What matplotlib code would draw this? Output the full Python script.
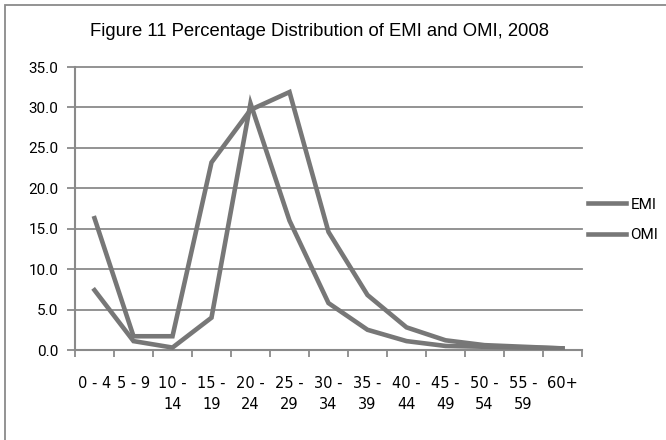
import matplotlib
matplotlib.use("Agg")
import matplotlib.pyplot as plt
from matplotlib.lines import Line2D
from matplotlib.patches import Rectangle
import numpy as np

age_groups = ["0 - 4", "5 - 9", "10 -\n14", "15 -\n19", "20 -\n24", "25 -\n29", "30 -\n34",
              "35 -\n39", "40 -\n44", "45 -\n49", "50 -\n54", "55 -\n59", "60+"]
emi = [16.3, 1.7, 1.7, 23.2, 29.7, 31.9, 14.6, 6.8, 2.8, 1.2, 0.6, 0.4, 0.2]
omi = [7.4, 1.1, 0.3, 4.0, 30.5, 16.0, 5.8, 2.5, 1.1, 0.5, 0.4, 0.3, 0.2]
yticks = [0, 5, 10, 15, 20, 25, 30, 35]

W, H = 666, 440
grey = "#8a8a8a"
line_col = "#777777"

fig = plt.figure(figsize=(W / 100, H / 100), dpi=100)
ax = fig.add_axes([75 / W, 1 - 350 / H, 507 / W, 283 / H])

x = np.arange(len(age_groups))
ax.plot(x, emi, color=line_col, lw=3.3, solid_joinstyle="miter", zorder=3)
ax.plot(x, omi, color=line_col, lw=3.3, solid_joinstyle="miter", zorder=3)

ax.set_xlim(-0.5, len(age_groups) - 0.5)
ax.set_ylim(0, 35)
ax.set_yticks(yticks)
ax.set_yticklabels(["%.1f" % v for v in yticks], fontsize=11, family="Roboto")
ax.yaxis.grid(True, color=grey, lw=1.3)
for gl in ax.get_ygridlines():
    gl.set_clip_on(False)
ax.set_axisbelow(True)

ax.set_xticks(x)
ax.set_xticklabels(age_groups, fontsize=10.5, family=["Liberation Sans Narrow", "DejaVu Sans Condensed"],
                   linespacing=1.45, va="top")
ax.tick_params(axis="x", which="major", length=0, pad=19)
ax.set_xticks(np.arange(-0.5, len(age_groups)), minor=True)
ax.tick_params(axis="x", which="minor", length=5, width=1.3, color=grey, direction="out")
ax.tick_params(axis="y", length=6, width=1.3, color=grey, direction="out", pad=6)

for s in ["top", "right"]:
    ax.spines[s].set_visible(False)
for s in ["left", "bottom"]:
    ax.spines[s].set_color(grey)
    ax.spines[s].set_linewidth(1.5)

fig.text(320 / W, 1 - 31 / H, "Figure 11 Percentage Distribution of EMI and OMI, 2008",
         ha="center", va="center", fontsize=13.3, family="Liberation Sans")

handles = [Line2D([], [], color=line_col, lw=3.3), Line2D([], [], color=line_col, lw=3.3)]
fig.legend(handles, ["EMI", "OMI"], loc="center left", bbox_to_anchor=(574 / W, 1 - 220 / H),
           frameon=False, handlelength=2.5, handletextpad=0.3, labelspacing=1.1,
           prop={"family": ["Roboto"], "size": 11})

fig.patches.append(Rectangle((4.5 / W, -0.1), 1.2, 1.1 - 5 / H, transform=fig.transFigure,
                             fill=False, edgecolor=grey, lw=1.3))

fig.savefig("out.png", dpi=100)
